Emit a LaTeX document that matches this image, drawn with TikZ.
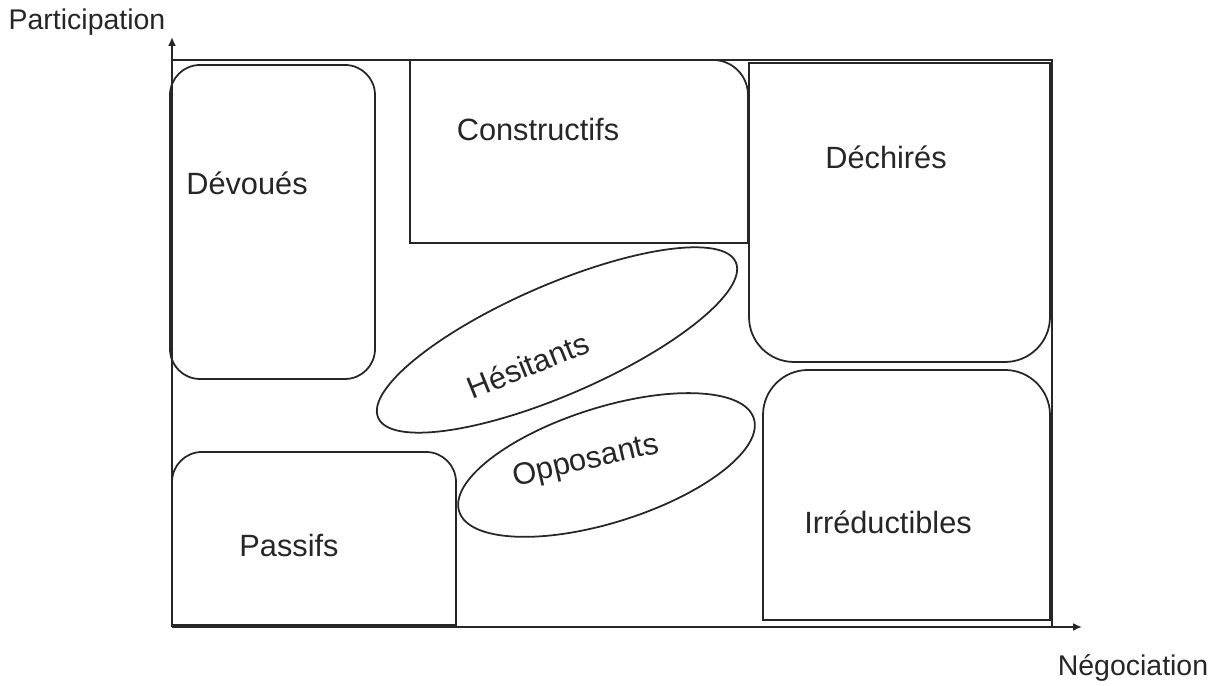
\documentclass[tikz,border=0pt]{standalone}
\usepackage{fontspec}
\setmainfont{Liberation Sans}
\usepackage{tikz}
\usetikzlibrary{shapes,arrows,arrows.meta,positioning}

\begin{document}
\begin{tikzpicture}[line width=1pt,
    box/.style={draw=black!85, line width=1pt},
    lbl/.style={font=\fontsize{17.5}{20}\selectfont, text=black!85},
    axlbl/.style={font=\fontsize{16.2}{19}\selectfont, text=black!85},
    blob/.style={draw=black!85, ellipse, inner sep=0pt}]
    \useasboundingbox (0,0) rectangle (24.32,13.72);

    % Axes
    \coordinate (O) at (3.44,1.18);
    \coordinate (ytip) at (3.44,12.98);
    \coordinate (xtip) at (21.64,1.18);
    \draw[-{Latex[length=5pt,width=4.5pt]}, black!85] (O) -- (ytip);
    \draw[-{Latex[length=5pt,width=4.5pt]}, black!85] (O) -- (xtip);
    \draw[box] (3.44,12.52) -- (21.04,12.52) -- (21.04,1.18);
    \node[axlbl] (part) at (1.74,13.28) {Participation};
    \node[axlbl] (nego) at (22.66,0.36) {Négociation};

    % Boxes
    \draw[box, rounded corners=0.6cm] (3.40,6.14) rectangle (7.50,12.42);
    \draw[box] (8.20,8.86) -- (8.20,12.52) -- (14.26,12.52)
        arc[start angle=90, end angle=0, radius=0.7] -- (14.96,8.86) -- cycle;
    \draw[box] (14.98,12.46) -- (21.00,12.46) -- (21.00,7.38)
        arc[start angle=0, end angle=-90, radius=0.9] -- (15.88,6.48)
        arc[start angle=270, end angle=180, radius=0.9] -- cycle;
    \draw[box] (15.26,1.32) -- (15.26,5.42)
        arc[start angle=180, end angle=90, radius=0.9] -- (20.10,6.32)
        arc[start angle=90, end angle=0, radius=0.9] -- (21.00,1.32) -- cycle;
    \draw[box] (3.44,1.22) -- (3.44,4.08)
        arc[start angle=180, end angle=90, radius=0.6] -- (8.52,4.68)
        arc[start angle=90, end angle=0, radius=0.6] -- (9.12,1.22) -- cycle;

    % Ellipses
    \node[blob, minimum width=7.8cm, minimum height=2.2cm, rotate=23.5] (hesit) at (11.14,6.92) {};
    \node[blob, minimum width=6.18cm, minimum height=2.3cm, rotate=17.5] (oppos) at (12.13,4.42) {};

    % Labels
    \node[lbl] (devoues) at (4.94,10.06) {Dévoués};
    \node[lbl] (constr) at (10.76,11.12) {Constructifs};
    \node[lbl] (dechires) at (17.72,10.58) {Déchirés};
    \node[lbl, rotate=22] (hesitants) at (10.56,6.42) {Hésitants};
    \node[lbl, rotate=13] (opposants) at (11.72,4.48) {Opposants};
    \node[lbl] (passifs) at (5.78,2.80) {Passifs};
    \node[lbl] (irreduct) at (17.76,3.28) {Irréductibles};
\end{tikzpicture}
\end{document}
